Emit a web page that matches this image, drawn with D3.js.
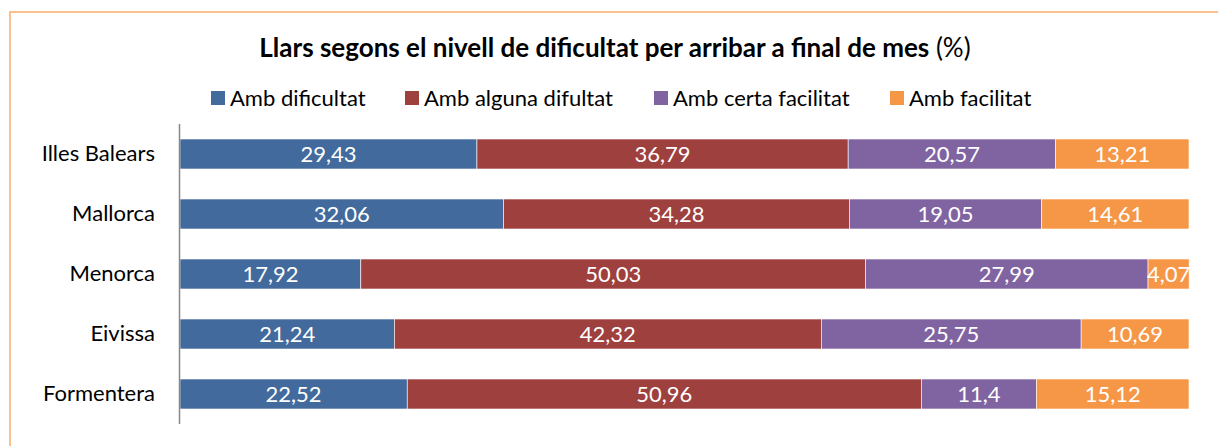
<!DOCTYPE html>
<html>
<head>
<meta charset="utf-8">
<script src="https://cdn.jsdelivr.net/npm/d3@7"></script>
<style>
  body { margin: 0; background: #fff; }
  svg text { font-family: Lato, "Open Sans", sans-serif; }
</style>
</head>
<body>
<svg id="chart" width="1218" height="446"></svg>
<script>
var categories = ["Illes Balears", "Mallorca", "Menorca", "Eivissa", "Formentera"];
var seriesNames = ["Amb dificultat", "Amb alguna difultat", "Amb certa facilitat", "Amb facilitat"];
var dificultat = [29.43, 32.06, 17.92, 21.24, 22.52];
var alguna = [36.79, 34.28, 50.03, 42.32, 50.96];
var certa = [20.57, 19.05, 27.99, 25.75, 11.4];
var facilitat = [13.21, 14.61, 4.07, 10.69, 15.12];
var colors = ["#426a9c", "#9e403e", "#8064a2", "#f69747"];

var svg = d3.select("#chart"),
    margin = {top: 124, right: 29, bottom: 22, left: 180},
    width = 1218 - margin.left - margin.right,
    height = 446 - margin.top - margin.bottom;

// chart frame
svg.append("rect")
    .attr("x", 10).attr("y", 12)
    .attr("width", 1230).attr("height", 460)
    .attr("fill", "none")
    .attr("stroke", "#fac090")
    .attr("stroke-width", 2);

var table = categories.map(function(c, i) {
  return {cat: c, 0: dificultat[i], 1: alguna[i], 2: certa[i], 3: facilitat[i]};
});
var stack = d3.stack().keys([0, 1, 2, 3])(table);

var x = d3.scaleLinear().domain([0, 100]).range([0, width]);
var y = d3.scaleBand().domain(categories).range([0, height]).paddingInner(0.5).paddingOuter(0.25);

var g = svg.append("g")
    .attr("transform", "translate(" + margin.left + "," + margin.top + ")");

var layer = g.selectAll(".layer")
  .data(stack)
  .enter().append("g")
    .attr("fill", function(d) { return colors[d.key]; });

layer.selectAll("rect")
  .data(function(d) { return d; })
  .enter().append("rect")
    .attr("x", function(d) { return x(d[0]); })
    .attr("y", function(d) { return y(d.data.cat); })
    .attr("width", function(d) { return x(d[1]) - x(d[0]); })
    .attr("height", y.bandwidth())
    .attr("stroke", "#fff")
    .attr("stroke-width", 0.6);

layer.selectAll("text")
  .data(function(d) { return d.map(function(p) { return {p: p, key: d.key}; }); })
  .enter().append("text")
    .attr("x", function(d) { return (x(d.p[0]) + x(d.p[1])) / 2; })
    .attr("y", function(d) { return y(d.p.data.cat) + y.bandwidth() / 2; })
    .attr("dy", "0.36em")
    .attr("text-anchor", "middle")
    .attr("fill", "#fff")
    .style("font-size", "22px")
    .text(function(d) { return String(d.p.data[d.key]).replace(".", ","); });

var yAxis = g.append("g")
    .call(d3.axisLeft(y).tickSize(0).tickPadding(25));
yAxis.select(".domain").attr("stroke", "#888").attr("stroke-width", 1.5).attr("d", "M-0.5,0V" + height);
yAxis.selectAll("text")
    .style("font-size", "22px")
    .attr("fill", "#000");

// title
var title = svg.append("text")
    .attr("x", 615).attr("y", 57)
    .attr("text-anchor", "middle")
    .style("font-size", "26px")
    .attr("fill", "#000");
title.append("tspan").attr("font-weight", "bold").text("Llars segons el nivell de dificultat per arribar a final de mes");
title.append("tspan").text(" (%)");

// legend
var legendX = [211, 405, 654, 890];
var legend = svg.selectAll(".legend")
  .data(seriesNames)
  .enter().append("g")
    .attr("transform", function(d, i) { return "translate(" + legendX[i] + ",91)"; });
legend.append("rect")
    .attr("width", 14).attr("height", 14)
    .attr("fill", function(d, i) { return colors[i]; });
legend.append("text")
    .attr("x", 19).attr("y", 7)
    .attr("dy", "0.36em")
    .style("font-size", "22px")
    .attr("fill", "#000")
    .text(function(d) { return d; });
</script>
</body>
</html>
